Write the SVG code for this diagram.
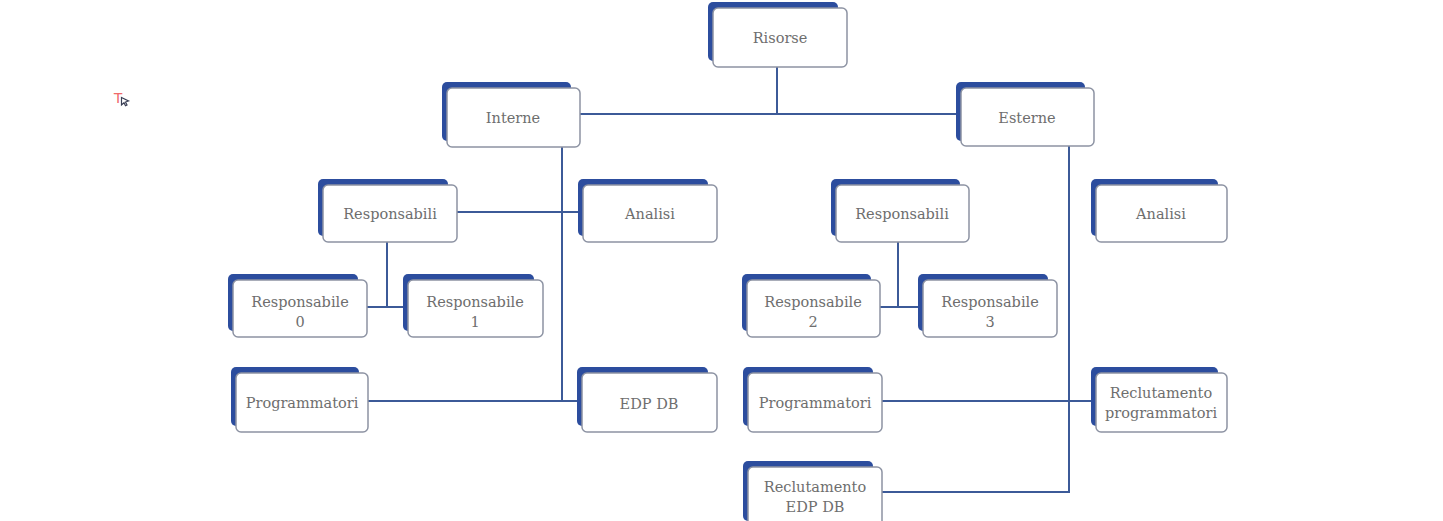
<svg xmlns="http://www.w3.org/2000/svg" width="1443" height="521" viewBox="0 0 1443 521">
<style>
.bk{fill:#2c4d9e;}
.fr{fill:#ffffff;stroke:#8d93a3;stroke-width:1.5;}
.t{font-family:"DejaVu Serif","Liberation Serif",serif;font-size:14.5px;fill:#6e6e6e;text-anchor:middle;dominant-baseline:central;}
.c{fill:none;stroke:#3c5a98;stroke-width:2;}
</style>
<rect width="1443" height="521" fill="#ffffff"/>
<g id="cursor-icon">
<text x="118" y="97" font-family="Liberation Sans,sans-serif" font-size="15" fill="#f06a6a" text-anchor="middle" dominant-baseline="central">T</text>
<path d="M121.5,97.5 L128.5,101 L125.5,102 L127,105 L125.5,105.8 L124,102.8 L121.5,105 Z" fill="#ffffff" stroke="#3a3f55" stroke-width="1.2"/>
</g>
<g id="connectors">
<path class="c" d="M777,67 V114 M580,114 H961"/>
<path class="c" d="M562,147 V401 M368,401 H582"/>
<path class="c" d="M457,212 H583"/>
<path class="c" d="M387,242 V307 M367,307 H408"/>
<path class="c" d="M898,242 V307 M880,307 H923"/>
<path class="c" d="M1069,146 V492 H882"/>
<path class="c" d="M882,401 H1096"/>
</g>
<g id="risorse"><rect class="bk" x="708" y="2" width="130" height="59" rx="5"/><rect class="fr" x="713" y="8" width="134" height="59" rx="5"/><text class="t" x="780" y="38">Risorse</text></g>
<g id="interne"><rect class="bk" x="442" y="82" width="129" height="59" rx="5"/><rect class="fr" x="447" y="88" width="133" height="59" rx="5"/><text class="t" x="513" y="118">Interne</text></g>
<g id="esterne"><rect class="bk" x="956" y="82" width="129" height="59" rx="5"/><rect class="fr" x="961" y="88" width="133" height="58" rx="5"/><text class="t" x="1027" y="118">Esterne</text></g>
<g id="responsabili-int"><rect class="bk" x="318" y="179" width="130" height="57" rx="5"/><rect class="fr" x="323" y="185" width="134" height="57" rx="5"/><text class="t" x="390" y="214">Responsabili</text></g>
<g id="analisi-int"><rect class="bk" x="578" y="179" width="130" height="57" rx="5"/><rect class="fr" x="583" y="185" width="134" height="57" rx="5"/><text class="t" x="650" y="214">Analisi</text></g>
<g id="responsabili-est"><rect class="bk" x="831" y="179" width="129" height="57" rx="5"/><rect class="fr" x="836" y="185" width="133" height="57" rx="5"/><text class="t" x="902" y="214">Responsabili</text></g>
<g id="analisi-est"><rect class="bk" x="1091" y="179" width="127" height="57" rx="5"/><rect class="fr" x="1096" y="185" width="131" height="57" rx="5"/><text class="t" x="1161" y="214">Analisi</text></g>
<g id="responsabile-0"><rect class="bk" x="228" y="274" width="130" height="57" rx="5"/><rect class="fr" x="233" y="280" width="134" height="57" rx="5"/><text class="t" x="300" y="302">Responsabile</text><text class="t" x="300" y="322">0</text></g>
<g id="responsabile-1"><rect class="bk" x="403" y="274" width="131" height="57" rx="5"/><rect class="fr" x="408" y="280" width="135" height="57" rx="5"/><text class="t" x="475" y="302">Responsabile</text><text class="t" x="475" y="322">1</text></g>
<g id="responsabile-2"><rect class="bk" x="742" y="274" width="129" height="57" rx="5"/><rect class="fr" x="747" y="280" width="133" height="57" rx="5"/><text class="t" x="813" y="302">Responsabile</text><text class="t" x="813" y="322">2</text></g>
<g id="responsabile-3"><rect class="bk" x="918" y="274" width="130" height="57" rx="5"/><rect class="fr" x="923" y="280" width="134" height="57" rx="5"/><text class="t" x="990" y="302">Responsabile</text><text class="t" x="990" y="322">3</text></g>
<g id="programmatori-int"><rect class="bk" x="231" y="367" width="128" height="59" rx="5"/><rect class="fr" x="236" y="373" width="132" height="59" rx="5"/><text class="t" x="302" y="403">Programmatori</text></g>
<g id="edp-db"><rect class="bk" x="577" y="367" width="131" height="59" rx="5"/><rect class="fr" x="582" y="373" width="135" height="59" rx="5"/><text class="t" x="649" y="404">EDP DB</text></g>
<g id="programmatori-est"><rect class="bk" x="743" y="367" width="130" height="59" rx="5"/><rect class="fr" x="748" y="373" width="134" height="59" rx="5"/><text class="t" x="815" y="403">Programmatori</text></g>
<g id="reclutamento-programmatori"><rect class="bk" x="1091" y="367" width="127" height="59" rx="5"/><rect class="fr" x="1096" y="373" width="131" height="59" rx="5"/><text class="t" x="1161" y="393">Reclutamento</text><text class="t" x="1161" y="413">programmatori</text></g>
<g id="reclutamento-edp-db"><rect class="bk" x="743" y="461" width="130" height="60" rx="5"/><rect class="fr" x="748" y="467" width="134" height="60" rx="5"/><text class="t" x="815" y="487">Reclutamento</text><text class="t" x="815" y="507">EDP DB</text></g>
</svg>
